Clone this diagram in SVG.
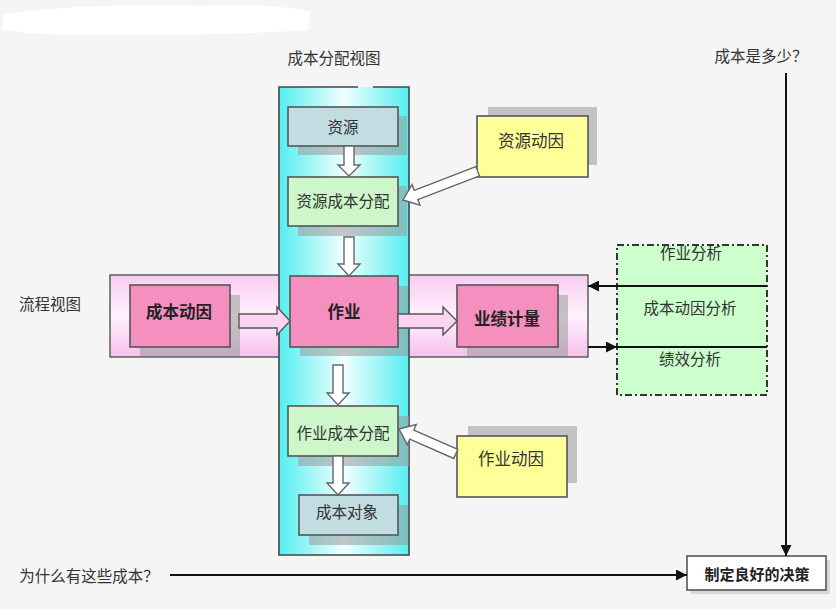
<svg xmlns="http://www.w3.org/2000/svg" width="836" height="609" viewBox="0 0 836 609">
<defs>
<style>
text{font-family:"Noto Sans CJK SC","Noto Sans",sans-serif;fill:#333;text-anchor:middle;dominant-baseline:central}
.t{font-size:15.5px}
.b{font-size:16.5px;font-weight:bold;fill:#222}
.y{font-size:16.5px}
.box{stroke:#555;stroke-width:1.6}
.sh{fill:#999;opacity:0.55}
.hollow{fill:#fff;stroke:#666;stroke-width:1.4}
.pinkar{fill:#fbd4f4;stroke:#555;stroke-width:1.4}
.ln{stroke:#111;stroke-width:2;fill:none}
</style>
<linearGradient id="cyan" x1="0" y1="0" x2="1" y2="0">
<stop offset="0" stop-color="#55eef0"/>
<stop offset="0.5" stop-color="#f2ffff"/>
<stop offset="1" stop-color="#55eef0"/>
</linearGradient>
<linearGradient id="pinkband" x1="0" y1="0" x2="0" y2="1">
<stop offset="0" stop-color="#f7cdf1"/>
<stop offset="0.5" stop-color="#fff2fd"/>
<stop offset="1" stop-color="#f5c0ec"/>
</linearGradient>
<marker id="ah" viewBox="0 0 10 10" refX="10" refY="5" markerWidth="6" markerHeight="6" orient="auto" markerUnits="userSpaceOnUse">
<path d="M0,0 L10,5 L0,10 Z" fill="#111"/>
</marker>
<marker id="ah2" viewBox="0 0 10 10" refX="10" refY="5" markerWidth="11" markerHeight="11" orient="auto" markerUnits="userSpaceOnUse">
<path d="M0,0 L10,5 L0,10 Z" fill="#111"/>
</marker>
</defs>
<rect width="836" height="609" fill="#f5f5f5"/>
<path d="M4,14 C60,6 140,4 200,6 C250,4 290,6 310,12 L308,30 C250,34 150,36 40,34 L2,30 Z" fill="#ffffff"/>

<text class="t" x="334" y="57">成本分配视图</text>
<text class="t" x="50" y="303">流程视图</text>
<text class="t" x="761" y="55">成本是多少？</text>
<text class="t" x="89" y="575">为什么有这些成本？</text>

<g id="process-band">
<rect x="110" y="275" width="478" height="82" fill="url(#pinkband)" stroke="#555" stroke-width="1.4"/>
</g>

<g id="cost-column">
<rect x="279" y="87" width="130" height="468" fill="url(#cyan)"/>
<path d="M358,87 L279,87 L279,555 L409,555 L409,87 L373,87" fill="none" stroke="#444" stroke-width="1.6"/>
</g>

<g id="node-resource">
<rect class="sh" x="298" y="116" width="109" height="39"/>
<rect class="box" x="288" y="107" width="110" height="39" fill="#c2dde2"/>
<text class="t" x="343" y="126">资源</text>
</g>

<g id="node-resource-alloc">
<rect class="sh" x="298" y="186" width="109" height="50"/>
<rect class="box" x="288" y="177" width="110" height="49" fill="#cdf6cb"/>
<text class="t" x="343" y="200">资源成本分配</text>
</g>

<g id="node-activity">
<rect class="sh" x="300" y="286" width="108" height="70"/>
<rect class="box" x="290" y="276" width="108" height="71" fill="#f58fc0"/>
<text class="b" x="344" y="311">作业</text>
</g>

<g id="node-cost-driver">
<rect class="sh" x="140" y="295" width="100" height="61"/>
<rect class="box" x="130" y="285" width="100" height="62" fill="#f58fc0"/>
<text class="b" x="179" y="311">成本动因</text>
</g>

<g id="node-performance">
<rect class="sh" x="467" y="295" width="101" height="61"/>
<rect class="box" x="457" y="285" width="101" height="62" fill="#f58fc0"/>
<text class="b" x="507" y="318">业绩计量</text>
</g>

<g id="node-activity-alloc">
<rect class="sh" x="298" y="416" width="111" height="50"/>
<rect class="box" x="288" y="406" width="110" height="50" fill="#cdf6cb"/>
<text class="t" x="343" y="432">作业成本分配</text>
</g>

<g id="node-cost-object">
<rect class="sh" x="309" y="505" width="99" height="40"/>
<rect class="box" x="299" y="495" width="99" height="40" fill="#c2dde2"/>
<text class="t" x="347" y="511">成本对象</text>
</g>

<g id="node-resource-driver">
<rect class="sh" x="488" y="107" width="109" height="58"/>
<rect class="box" x="477" y="116" width="111" height="61" fill="#ffff99"/>
<text class="y" x="531" y="140">资源动因</text>
</g>

<g id="node-activity-driver">
<rect class="sh" x="468" y="426" width="109" height="57"/>
<rect class="box" x="457" y="436" width="110" height="61" fill="#ffff99"/>
<text class="y" x="511" y="458">作业动因</text>
</g>

<g id="node-analysis">
<rect x="617" y="245" width="150" height="150" fill="#ccffcc" stroke="#333" stroke-width="2" stroke-dasharray="7,3,2,3"/>
<text class="t" x="691" y="252">作业分析</text>
<text class="t" x="690" y="307">成本动因分析</text>
<text class="t" x="690" y="358">绩效分析</text>
</g>

<g id="node-decision">
<rect x="691" y="560" width="139" height="34" fill="#bbb" opacity="0.5"/>
<rect x="687" y="556" width="139" height="34" fill="#fff" stroke="#555" stroke-width="1.6"/>
<text class="b" x="757" y="573" style="font-size:15px">制定良好的决策</text>
</g>

<g id="connectors">
<path class="hollow" d="M344,146 L354,146 L354,165 L360,165 L349,176 L338,165 L344,165 Z"/>
<path class="hollow" d="M344,237 L354,237 L354,264 L360,264 L349,276 L338,264 L344,264 Z"/>
<path class="hollow" d="M333,365 L343,365 L343,393 L349,393 L338,405 L327,393 L333,393 Z"/>
<path class="hollow" d="M333,456 L343,456 L343,483 L349,483 L338,495 L327,483 L333,483 Z"/>
<path class="pinkar" d="M239,314 L277,314 L277,307 L290,321 L277,335 L277,328 L239,328 Z"/>
<path class="pinkar" d="M398,314 L443,314 L443,307 L457,321 L443,335 L443,328 L398,328 Z"/>
<path class="hollow" transform="translate(403,200) rotate(158.9)" d="M-80,-5 L-14,-5 L-14,-11 L0,0 L-14,11 L-14,5 L-80,5 Z"/>
<path class="hollow" transform="translate(399,429) rotate(203.7)" d="M-62,-5 L-14,-5 L-14,-11 L0,0 L-14,11 L-14,5 L-62,5 Z"/>
<line class="ln" x1="767" y1="286" x2="588" y2="286" marker-end="url(#ah2)"/>
<line class="ln" x1="588" y1="347" x2="617" y2="347" marker-end="url(#ah2)"/>
<line class="ln" x1="617" y1="347" x2="767" y2="347"/>
<line class="ln" x1="786" y1="73" x2="786" y2="556" marker-end="url(#ah2)"/>
<line class="ln" x1="170" y1="575" x2="687" y2="575" marker-end="url(#ah2)"/>
</g>
</svg>
